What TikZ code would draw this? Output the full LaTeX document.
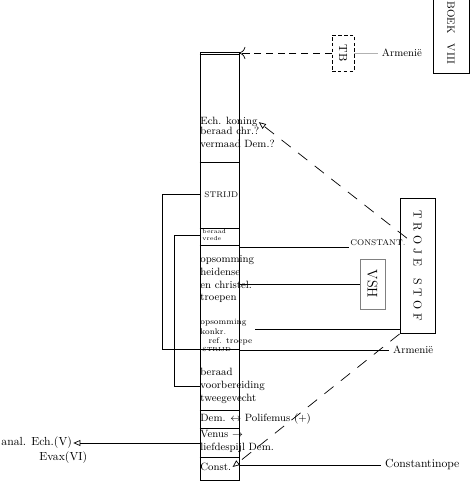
\documentclass[tikz,border=0pt]{standalone}
\usepackage{tikz}
\usetikzlibrary{positioning, arrows.meta, calc}

\begin{document}
\begin{tikzpicture}[x=0.03cm, y=-0.03cm,
                column/.style={
                    draw, line width=0.8pt,
                    minimum width=1.17cm,
                    minimum height=12.84cm,
                    inner sep=0pt
                },
                celltext/.style={
                    anchor=north west, align=left,
                    inner sep=1pt, font=\small
                },
                tinytext/.style={
                    celltext, font=\scriptsize
                },
                framebox/.style={
                    draw, line width=0.8pt, inner sep=0pt
                },
                divider/.style={
                    draw, line width=0.6pt
                },
                link/.style={
                    draw, line width=0.6pt
                },
                dashline/.style={
                    draw, line width=0.6pt,
                    dash pattern=on 10pt off 8pt
                },
                faint/.style={
                    draw=gray!60, line width=0.4pt
                }
            ]
            \useasboundingbox (0,0) rectangle (470,483);

            % --- Hoofdkolom ---
            \node[column] (colbox) at (219.5,266) {};
            \draw[divider] ([yshift=-2pt]colbox.north west) -- ([yshift=-2pt]colbox.north east);
            \foreach \yy in {162,228,245,349,410,428,457} {
                \draw[divider] (colbox.west |- 0,\yy) -- (colbox.east |- 0,\yy);
            }

            % --- Teksten in de kolom ---
            \node[celltext] (echA) at (199,116) {Ech. koning};
            \node[celltext, below=-2pt of echA.south west, anchor=north west] (echB) {beraad chr.?\\vermaad Dem.?};
            \node[tinytext] (strijdA) at (203,190) {STRIJD};
            \node[tinytext, font=\tiny] (vrede) at (201,228) {beraad\\vrede};
            \node[celltext] (opsomA) at (199,254) {opsomming\\heidense\\en christel.\\troepen};
            \node[tinytext] (opsomB) at (199,318) {opsomming\\konkr.\\\quad ref. troepe};
            \node[tinytext, font=\tiny] (strijdB) at (201,346) {STRIJD};
            \node[celltext] (tweegev) at (199,367) {beraad\\voorbereiding\\tweegevecht};
            \node[celltext, anchor=west] (polif) at (199,419) {Dem. $\leftrightarrow$ Polifemus (+)};
            \node[celltext] (venus) at (199,429) {Venus $\to$\\liefdespijl Dem.};
            \node[celltext, anchor=west] (constC) at (199,467) {Const.};

            % --- Rechterzijde ---
            \node[framebox, minimum width=1.05cm, minimum height=4.05cm] (troje) at (417.5,266)
                {\rotatebox{-90}{T\,\,R\,\,O\,\,J\,\,E\quad S\,\,T\,\,O\,\,F}};
            \node[draw=gray, line width=0.6pt, minimum width=0.75cm, minimum height=1.5cm] (vsh) at (372.5,284)
                {\rotatebox{-90}{\large VSH}};
            \node[draw, densely dashed, line width=0.8pt, minimum width=0.66cm, minimum height=1.08cm] (tb) at (343,53)
                {\rotatebox{-90}{TB}};
            \node[framebox, minimum width=1.08cm, minimum height=2.4cm] (boek) at (451,33)
                {\rotatebox{-90}{\small BOEK\quad VIII}};

            \node[right=0.7cm of tb, font=\small] (armA) {Armenië};
            \node[font=\scriptsize, anchor=south west, inner sep=1pt] (constant) at (349,247) {CONSTANT.};
            \node[font=\small, anchor=west] (armB) at (389,350) {Armenië};
            \node[anchor=west] (constp) at (381,465) {Constantinope};

            % --- Linkerzijde ---
            \node[anchor=west, inner sep=1pt] (analA) at (0,443) {anal. Ech.(V)};
            \node[anchor=north west, inner sep=1pt] (analB) at (38,450) {Evax(VI)};

            % --- Verbindingen ---
            \draw[dashline, dash pattern=on 6pt off 4pt, -{To[length=5pt]}] (tb.west) -- (tb.west -| colbox.east);
            \draw[faint] (tb.east) -- (armA.west);
            \draw[dashline, -{Triangle[open, length=6pt, width=5pt]}] (constant.north east) -- (echA.east);
            \draw[dashline, -{Triangle[open, length=6pt, width=5pt]}] (troje.south west) -- (constC.east);

            \draw[link] (colbox.east |- constant.south west) -- (constant.south west);
            \draw[link] (colbox.east |- vsh.west) -- (vsh.west);
            \draw[link] ([yshift=4pt]troje.south west) -- ([yshift=4pt]troje.south west -| opsomA.east);
            \draw[link] (colbox.east |- armB.west) -- (armB.west);
            \draw[link] (colbox.east |- constp.west) -- (constp.west);
            \draw[link, -{Triangle[open, length=6pt, width=5pt]}] (colbox.west |- analA.east) -- (analA.east);

            % haken links
            \draw[link] (colbox.west |- strijdA.west) -- ++(-37,0) |- (colbox.west |- strijdB.west);
            \draw[link] (colbox.west |- vrede.west) -- ++(-25,0) |- (colbox.west |- tweegev.west);

        \end{tikzpicture}
\end{document}
